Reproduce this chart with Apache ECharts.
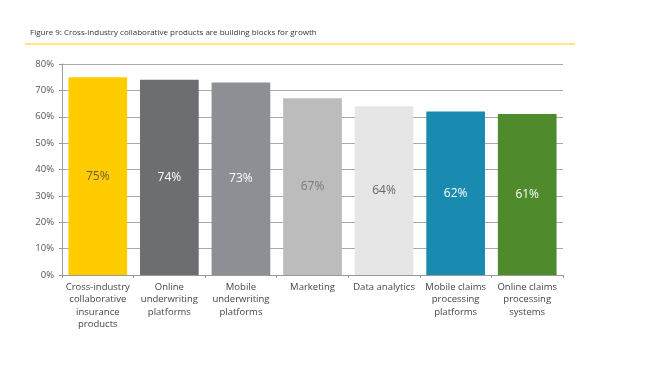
<!DOCTYPE html>
<html>
<head>
<meta charset="utf-8">
<script src="https://cdn.jsdelivr.net/npm/echarts@6/dist/echarts.min.js"></script>
<style>
  html, body { margin: 0; padding: 0; background: #fff; }
  #chart { width: 656px; height: 376px; }
</style>
</head>
<body>
<div id="chart"></div>
<script>
// Figure 9: cross-industry collaborative products
const categories = [
  "Cross-industry\ncollaborative\ninsurance\nproducts",
  "Online\nunderwriting\nplatforms",
  "Mobile\nunderwriting\nplatforms",
  "Marketing",
  "Data analytics",
  "Mobile claims\nprocessing\nplatforms",
  "Online claims\nprocessing\nsystems"
];
const values = [75, 74, 73, 67, 64, 62, 61];
const barColors = ["#ffcc00", "#6d6e71", "#8c8f93", "#bcbcbc", "#e6e6e6", "#1a8bb0", "#4f8a2c"];
const labelColors = ["#6b5e3a", "#ffffff", "#ffffff", "#7a7a7a", "#666666", "#ffffff", "#ffffff"];

const chart = echarts.init(document.getElementById("chart"), null, { renderer: "canvas" });

chart.setOption({
  animation: false,
  textStyle: { fontFamily: "Open Sans" },
  graphic: [
    {
      type: "text", left: 30, top: 29,
      style: { text: "Figure 9: Cross-industry collaborative products are building blocks for growth", fontSize: 8, fill: "#333", fontFamily: "Open Sans" }
    },
    {
      type: "line", shape: { x1: 25, y1: 44, x2: 575, y2: 44 },
      style: { stroke: "#ffd200", lineWidth: 1.2 }
    }
  ],
  grid: { left: 62, right: 93, top: 64, bottom: 101 },
  xAxis: {
    type: "category",
    data: categories,
    axisLine: { lineStyle: { color: "#999" } },
    axisTick: { show: true, lineStyle: { color: "#999" }, length: 3 },
    axisLabel: { color: "#444", fontSize: 9.5, lineHeight: 12.5, interval: 0, margin: 6 }
  },
  yAxis: {
    type: "value",
    min: 0, max: 80, interval: 10,
    axisLine: { show: true, lineStyle: { color: "#999" } },
    axisTick: { show: true, length: 3, lineStyle: { color: "#999" } },
    axisLabel: { color: "#555", fontSize: 9.5, formatter: "{value}%", margin: 8 },
    splitLine: { lineStyle: { color: "#a8a8a8" } }
  },
  series: [{
    type: "bar",
    barCategoryGap: "18%",
    data: values.map((v, i) => ({
      value: v,
      itemStyle: { color: barColors[i] },
      label: { color: labelColors[i] }
    })),
    label: {
      show: true,
      position: "inside",
      fontSize: 12,
      fontWeight: 500,
      formatter: "{c}%"
    }
  }]
});
</script>
</body>
</html>
